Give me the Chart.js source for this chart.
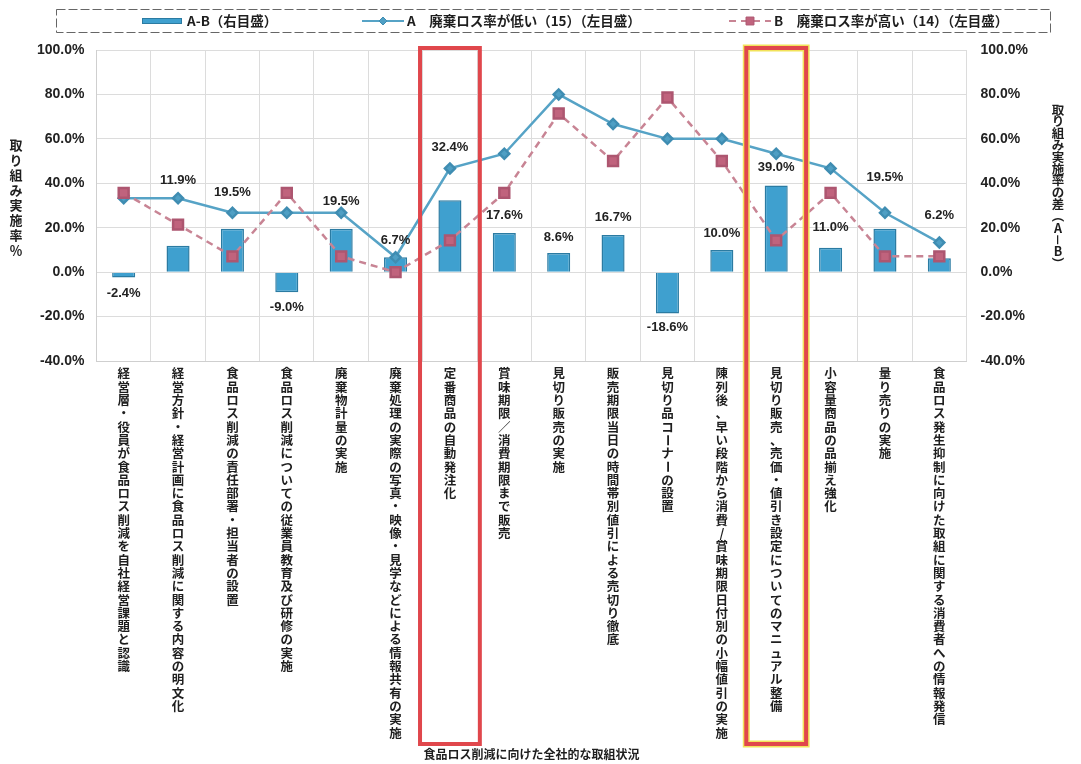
<!DOCTYPE html>
<html lang="ja">
<head>
<meta charset="utf-8">
<title>食品ロス削減に向けた全社的な取組状況</title>
<script src="https://cdn.jsdelivr.net/npm/chart.js@4.4.0/dist/chart.umd.min.js"></script>
<style>
  html, body { margin: 0; padding: 0; background: #fff; }
  canvas { display: block; }
</style>
</head>
<body>
<canvas id="chart" width="1081" height="764"></canvas>
<script>
// 取組項目 (x軸)
const categories = [
  '経営層・役員が食品ロス削減を自社経営課題と認識',
  '経営方針・経営計画に食品ロス削減に関する内容の明文化',
  '食品ロス削減の責任部署・担当者の設置',
  '食品ロス削減についての従業員教育及び研修の実施',
  '廃棄物計量の実施',
  '廃棄処理の実際の写真・映像・見学などによる情報共有の実施',
  '定番商品の自動発注化',
  '賞味期限／消費期限まで販売',
  '見切り販売の実施',
  '販売期限当日の時間帯別値引による売切り徹底',
  '見切り品コーナーの設置',
  '陳列後、早い段階から消費/賞味期限日付別の小幅値引の実施',
  '見切り販売、売価・値引き設定についてのマニュアル整備',
  '小容量商品の品揃え強化',
  '量り売りの実施',
  '食品ロス発生抑制に向けた取組に関する消費者への情報発信'
];
// A-B (右目盛)
const diffAB = [-2.4, 11.9, 19.5, -9.0, 19.5, 6.7, 32.4, 17.6, 8.6, 16.7, -18.6, 10.0, 39.0, 11.0, 19.5, 6.2];
// A 廃棄ロス率が低い(15)
const rateA = [33.3, 33.3, 26.7, 26.7, 26.7, 6.7, 46.7, 53.3, 80.0, 66.7, 60.0, 60.0, 53.3, 46.7, 26.7, 13.3];
// B 廃棄ロス率が高い(14)
const rateB = [35.7, 21.4, 7.1, 35.7, 7.1, 0.0, 14.3, 35.7, 71.4, 50.0, 78.6, 50.0, 14.3, 35.7, 7.1, 7.1];
const yTicks = [-40, -20, 0, 20, 40, 60, 80, 100];
const highlighted = [6, 12];

// ラベル位置の微調整 (px)
const labelLift = [4, 53, 24, 3, 15, 5, 41, 6, 4, 6, 2, 5, 6, 8, 39, 31];

const JP = "'Noto Sans CJK JP', 'Noto Sans', sans-serif";
const NUM = "'Liberation Sans', Arial, sans-serif";
const fmt = v => Number(v).toFixed(1) + '%';

const ROTATE = 'ー－（）';
function drawVertical(ctx, text, x, y, step) {
  [...text].forEach((ch, k) => {
    const cy = y + k * step + step / 2;
    if (ROTATE.includes(ch)) {
      ctx.save();
      ctx.translate(x, cy);
      ctx.rotate(Math.PI / 2);
      ctx.fillText(ch, 0, 0);
      ctx.restore();
    } else {
      ctx.fillText(ch, x, cy);
    }
  });
}

const barLabels = {
  id: 'barLabels',
  afterDatasetsDraw(chart) {
    const ctx = chart.ctx;
    const meta = chart.getDatasetMeta(0);
    ctx.save();
    ctx.font = `bold 13px ${NUM}`;
    ctx.fillStyle = '#222';
    ctx.textAlign = 'center';
    ctx.textBaseline = 'middle';
    meta.data.forEach((bar, i) => {
      const v = diffAB[i];
      const y = v >= 0 ? bar.y - 12 - labelLift[i] : bar.y + 12 + labelLift[i];
      ctx.fillText(fmt(v), bar.x, y);
    });
    ctx.restore();
  }
};

const axisText = {
  id: 'axisText',
  afterDraw(chart) {
    const {ctx, chartArea, scales: {x}} = chart;
    ctx.save();
    ctx.fillStyle = '#1e1e1e';
    ctx.textAlign = 'center';
    ctx.textBaseline = 'middle';
    ctx.font = `bold 12.5px ${JP}`;
    categories.forEach((c, i) => drawVertical(ctx, c, x.getPixelForValue(i), chartArea.bottom + 6, 13.3));
    ctx.font = `bold 12px ${JP}`;
    ctx.fillText('食品ロス削減に向けた全社的な取組状況', (chartArea.left + chartArea.right) / 2, 754);
    ctx.font = `bold 13px ${JP}`;
    drawVertical(ctx, '取り組み実施率％', 16, 138, 15);
    ctx.font = `bold 12.5px ${JP}`;
    drawVertical(ctx, '取り組み実施率の差（A－B）', 1058, 104, 11.8);

    // 注目項目の枠
    const w = x.getPixelForValue(1) - x.getPixelForValue(0);
    const bottom = 744;
    highlighted.forEach((i, k) => {
      const cx = x.getPixelForValue(i);
      const half = w * 0.55;
      if (k === 1) {
        ctx.strokeStyle = '#f2e35a';
        ctx.lineWidth = 7;
        ctx.strokeRect(cx - half, chartArea.top - 2, half * 2, bottom - chartArea.top + 2);
      }
      ctx.strokeStyle = '#e0474c';
      ctx.lineWidth = 4;
      ctx.strokeRect(cx - half, chartArea.top - 2, half * 2, bottom - chartArea.top + 2);
    });
    ctx.restore();
  }
};

const legendBox = {
  id: 'legendBox',
  afterDraw(chart) {
    const ctx = chart.ctx;
    const ds = chart.data.datasets;
    const xs = [142, 362, 729];
    const cy = 21;
    ctx.save();
    ctx.setLineDash([9, 3]);
    ctx.strokeStyle = '#666';
    ctx.lineWidth = 1;
    ctx.strokeRect(56.5, 9.5, 994, 23);
    ctx.setLineDash([]);
    ds.forEach((d, i) => {
      const x0 = xs[i];
      if (d.type === 'bar') {
        ctx.fillStyle = d.backgroundColor;
        ctx.fillRect(x0, cy - 3, 40, 6);
        ctx.strokeStyle = d.borderColor;
        ctx.lineWidth = 1;
        ctx.strokeRect(x0 + 0.5, cy - 2.5, 39, 5);
      } else {
        ctx.strokeStyle = d.borderColor;
        ctx.lineWidth = 2;
        ctx.setLineDash(d.borderDash || []);
        ctx.beginPath();
        ctx.moveTo(x0, cy);
        ctx.lineTo(x0 + 42, cy);
        ctx.stroke();
        ctx.setLineDash([]);
        ctx.fillStyle = d.pointBackgroundColor;
        ctx.strokeStyle = d.pointBorderColor;
        ctx.lineWidth = 1;
        Chart.helpers.drawPoint(ctx, {pointStyle: d.pointStyle, radius: d.pointRadius * 0.8, rotation: 0, borderWidth: 1}, x0 + 21, cy);
      }
      ctx.fillStyle = '#1e1e1e';
      ctx.font = `bold 13.5px ${JP}`;
      ctx.textAlign = 'left';
      ctx.textBaseline = 'middle';
      ctx.fillText(d.label, x0 + 45, cy);
    });
    ctx.restore();
  }
};

const yAxis = (position, pad, onChart) => ({
  position: position,
  min: -40,
  max: 100,
  afterBuildTicks: s => { s.ticks = yTicks.map(v => ({value: v})); },
  ticks: {
    callback: v => fmt(v),
    font: {family: NUM, size: 14, weight: 'bold'},
    color: '#222',
    padding: pad
  },
  grid: {color: '#dcdcdc', drawTicks: false, drawOnChartArea: onChart},
  border: {display: onChart, color: '#cfcfcf'}
});

new Chart(document.getElementById('chart'), {
  type: 'bar',
  data: {
    labels: categories,
    datasets: [
      {
        type: 'bar',
        label: 'A-B（右目盛）',
        data: diffAB,
        yAxisID: 'y2',
        backgroundColor: '#3fa0cf',
        borderColor: '#2b7ba2',
        borderWidth: 1.5,
        barPercentage: 0.53,
        categoryPercentage: 0.8,
        order: 2
      },
      {
        type: 'line',
        label: 'A　廃棄ロス率が低い（15）（左目盛）',
        data: rateA,
        yAxisID: 'y',
        borderColor: '#56a3c6',
        borderWidth: 2.5,
        pointStyle: 'rectRot',
        pointRadius: 5,
        pointBackgroundColor: '#4f9fc4',
        pointBorderColor: '#3f8db2',
        tension: 0,
        order: 1
      },
      {
        type: 'line',
        label: 'B　廃棄ロス率が高い（14）（左目盛）',
        data: rateB,
        yAxisID: 'y',
        borderColor: '#c88494',
        borderWidth: 2.5,
        borderDash: [7, 5],
        pointStyle: 'rect',
        pointRadius: 7,
        pointBackgroundColor: '#c0637d',
        pointBorderColor: '#ad5670',
        tension: 0,
        order: 0
      }
    ]
  },
  options: {
    responsive: false,
    devicePixelRatio: 1,
    animation: false,
    layout: {padding: {left: 25, right: 39, top: 50, bottom: 403}},
    plugins: {
      legend: {display: false},
      tooltip: {enabled: false}
    },
    scales: {
      x: {
        offset: true,
        ticks: {display: false},
        grid: {color: '#dcdcdc', drawTicks: false, offset: true},
        border: {color: '#cfcfcf'}
      },
      y: yAxis('left', 12, true),
      y2: yAxis('right', 14, false)
    }
  },
  plugins: [barLabels, axisText, legendBox]
});
</script>
</body>
</html>
